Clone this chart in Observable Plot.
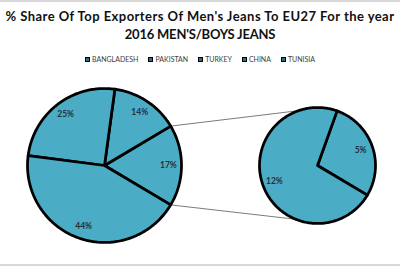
<!DOCTYPE html>
<html><head><meta charset="utf-8">
<script src="https://cdn.jsdelivr.net/npm/d3@7"></script>
<script src="https://cdn.jsdelivr.net/npm/@observablehq/plot@0.6"></script>
<style>
html,body{margin:0;padding:0;background:#fff;}
#wrap{position:relative;width:400px;height:266px;overflow:hidden;font-family:Lato,"Open Sans",sans-serif;}
#topline{position:absolute;left:0;top:0;width:400px;height:2px;background:#d9d9d9;}
#bottomline{position:absolute;left:0;top:264px;width:400px;height:2px;background:#d9d9d9;}
#title{position:absolute;left:0;top:7px;width:400px;text-align:center;font-weight:700;font-size:13px;line-height:18px;color:#111;white-space:nowrap;}
#title .l0{display:block;letter-spacing:0.45px;}
#title .l1{display:block;letter-spacing:-0.2px;}
#legend{position:absolute;left:0;top:54px;width:400px;display:flex;justify-content:center;gap:10px;font-size:7px;line-height:10px;color:#404040;}
.item{display:flex;align-items:center;}
.sw{width:3px;height:3px;border:1.5px solid #000;background:#2d6f80;margin-right:2px;}
#chart{position:absolute;left:0;top:68px;}
</style></head><body>
<div id="wrap">
  <div id="topline"></div>
  <div id="title"></div>
  <div id="legend"></div>
  <div id="chart"></div>
  <div id="bottomline"></div>
</div>
<script>
const titleLines = ["% Share Of Top Exporters Of Men's Jeans To EU27 For the year", "2016 MEN'S/BOYS JEANS"];
const countries = ["BANGLADESH", "PAKISTAN", "TURKEY", "CHINA", "TUNISIA"];
const shares = [43.5, 25.1, 14.3, 12.3, 4.8];
const secondaryCount = 2;

const fillColor = "#4BACC6";

// title
const t = document.getElementById("title");
titleLines.forEach((l, i) => { const s = document.createElement("span"); s.className = "l" + i; s.textContent = l; t.appendChild(s); });

// legend
const lg = document.getElementById("legend");
countries.forEach(c => {
  const it = document.createElement("div"); it.className = "item";
  const sw = document.createElement("span"); sw.className = "sw";
  const tx = document.createElement("span"); tx.textContent = c;
  it.appendChild(sw); it.appendChild(tx); lg.appendChild(it);
});

// layout
const W = 400, H = 196;
const main = {cx: 104, cy: 97, r: 77};
const sec = {cx: 317, cy: 97, r: 58};

const n = countries.length;
const nMain = n - secondaryCount;
const total = d3.sum(shares);
const other = d3.sum(shares.slice(nMain));
const deg = v => v / total * 360;
const oDeg = deg(other);

const slices = [];
slices.push({key: "Other", pie: main, a0: -oDeg / 2, a1: oDeg / 2, value: other});
let a = oDeg / 2;
for (let i = nMain - 1; i >= 0; i--) {
  const s = deg(shares[i]);
  slices.push({key: countries[i], pie: main, a0: a, a1: a + s, value: shares[i]});
  a += s;
}
a = -oDeg / 2;
for (let i = n - 1; i >= nMain; i--) {
  const s = shares[i] / other * 360;
  slices.push({key: countries[i], pie: sec, a0: a, a1: a + s, value: shares[i]});
  a += s;
}

const rad = d => d * Math.PI / 180;
const pt = (p, r, ang) => ({x: p.cx + r * Math.cos(rad(ang)), y: p.cy - r * Math.sin(rad(ang))});

const polys = [];
for (const s of slices) {
  const p = s.pie;
  polys.push({k: s.key, ...pt(p, 0, 0)});
  const steps = Math.max(2, Math.ceil(s.a1 - s.a0));
  for (let j = 0; j <= steps; j++) polys.push({k: s.key, ...pt(p, p.r, s.a0 + (s.a1 - s.a0) * j / steps)});
  polys.push({k: s.key, ...pt(p, 0, 0)});
}

const labels = slices.map(s => {
  const f = s.pie === main ? 0.83 : 0.79;
  const m = (s.a0 + s.a1) / 2;
  return {text: Math.round(s.value) + "%", ...pt(s.pie, s.pie.r * f, m)};
});

const connectors = [
  {k: "top", ...pt(main, main.r, oDeg / 2)}, {k: "top", ...pt(sec, sec.r, 109)},
  {k: "bot", ...pt(main, main.r, -oDeg / 2)}, {k: "bot", ...pt(sec, sec.r, -112)}
];

const chart = Plot.plot({
  width: W, height: H, margin: 0,
  style: {background: "transparent", overflow: "visible"},
  x: {domain: [0, W], range: [0, W], axis: null},
  y: {domain: [0, H], range: [0, H], axis: null},
  marks: [
    Plot.line(connectors, {x: "x", y: "y", z: "k", stroke: "#595959", strokeWidth: 0.8}),
    Plot.line(polys, {x: "x", y: "y", z: "k", fill: fillColor, stroke: "#000", strokeWidth: 2.75, strokeLinejoin: "round"}),
    Plot.text(labels, {x: "x", y: "y", text: "text", fontSize: 8.5, fontWeight: 700, fill: "#263238", fontFamily: "Lato"})
  ]
});
document.getElementById("chart").appendChild(chart);
</script>
</body></html>
